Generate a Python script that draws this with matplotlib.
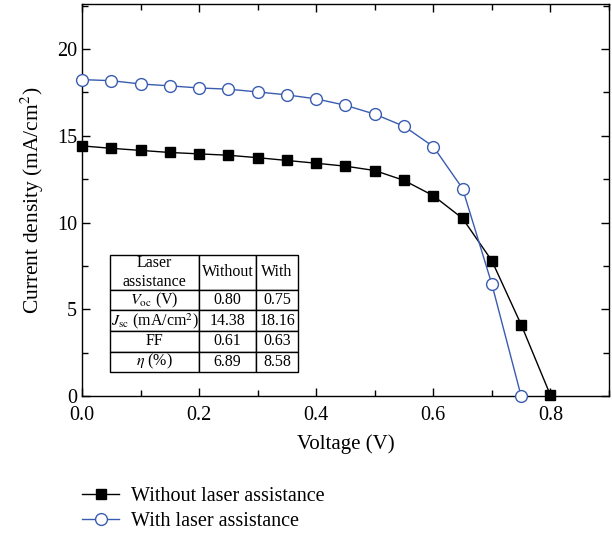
import matplotlib.pyplot as plt
from matplotlib.ticker import MultipleLocator

plt.rcParams['font.family'] = ['Liberation Serif', 'DejaVu Serif']
plt.rcParams['mathtext.fontset'] = 'stix'

voltage = [0.0, 0.05, 0.1, 0.15, 0.2, 0.25, 0.3, 0.35, 0.4, 0.45,
           0.5, 0.55, 0.6, 0.65, 0.7, 0.75, 0.8]
j_without = [14.42, 14.28, 14.16, 14.04, 13.96, 13.88, 13.74, 13.58, 13.42, 13.25,
             13.0, 12.43, 11.55, 10.24, 7.8, 4.12, 0.05]
voltage_with = voltage[:-1]
j_with = [18.24, 18.18, 17.99, 17.88, 17.76, 17.69, 17.53, 17.36, 17.13, 16.76,
          16.25, 15.55, 14.38, 11.96, 6.45, 0.0]

col_labels = ['Laser\nassistance', 'Without', 'With']
row_names = [r'$V_{\mathrm{oc}}$ (V)', r'$J_{\mathrm{sc}}$ (mA/cm$^2$)', 'FF', r'$\eta$ (%)']
val_without = ['0.80', '14.38', '0.61', '6.89']
val_with = ['0.75', '18.16', '0.63', '8.58']

blue = '#3a5cb0'

fig = plt.figure(figsize=(6.12, 5.33), dpi=100)
ax = fig.add_axes([0.134, 0.257, 0.861, 0.7355])

l1, = ax.plot(voltage, j_without, color='black', lw=1.0, marker='s', ms=7.5,
              mfc='black', mec='black', label='Without laser assistance', clip_on=False, zorder=3)
l2, = ax.plot(voltage_with, j_with, color=blue, lw=1.0, marker='o', ms=8.5,
              mfc='white', mec=blue, mew=1.0, label='With laser assistance', clip_on=False, zorder=3)

ax.set_xlim(0, 0.9)
ax.set_ylim(0, 22.6)
ax.xaxis.set_minor_locator(MultipleLocator(0.1))
ax.yaxis.set_major_locator(MultipleLocator(5))
ax.yaxis.set_minor_locator(MultipleLocator(2.5))
ax.set_xticks([0, 0.2, 0.4, 0.6, 0.8])
ax.set_xticklabels(['0.0', '0.2', '0.4', '0.6', '0.8'])
ax.tick_params(which='both', direction='in', top=True, right=True, labelsize=14.5, width=1.0)
ax.tick_params(which='major', length=6)
ax.tick_params(which='minor', length=4)
ax.tick_params(axis='x', pad=7)
for s in ax.spines.values():
    s.set_linewidth(1.0)

ax.set_xlabel('Voltage (V)', fontsize=15, labelpad=7)
ax.set_ylabel('Current density (mA/cm$^2$)', fontsize=15.5, labelpad=8)

cell_text = [[row_names[i], val_without[i], val_with[i]] for i in range(len(row_names))]
tab = ax.table(cellText=cell_text, colLabels=col_labels, cellLoc='center',
               colWidths=[89, 57, 42], bbox=[0.053, 0.061, 0.357, 0.299])
tab.auto_set_font_size(False)
tab.set_fontsize(11.5)
for (r, c), cell in tab.get_celld().items():
    cell.set_height(34 if r == 0 else 20)
    cell.set_linewidth(1.0)
    cell.set_facecolor('white')
    cell.PAD = 0.01

fig.legend(handles=[l1, l2], loc='upper left', bbox_to_anchor=(0.121, 0.101),
           frameon=False, fontsize=14.5, handlelength=1.85, handletextpad=0.6,
           labelspacing=0.3, borderaxespad=0)

fig.savefig('out.png', dpi=100)
